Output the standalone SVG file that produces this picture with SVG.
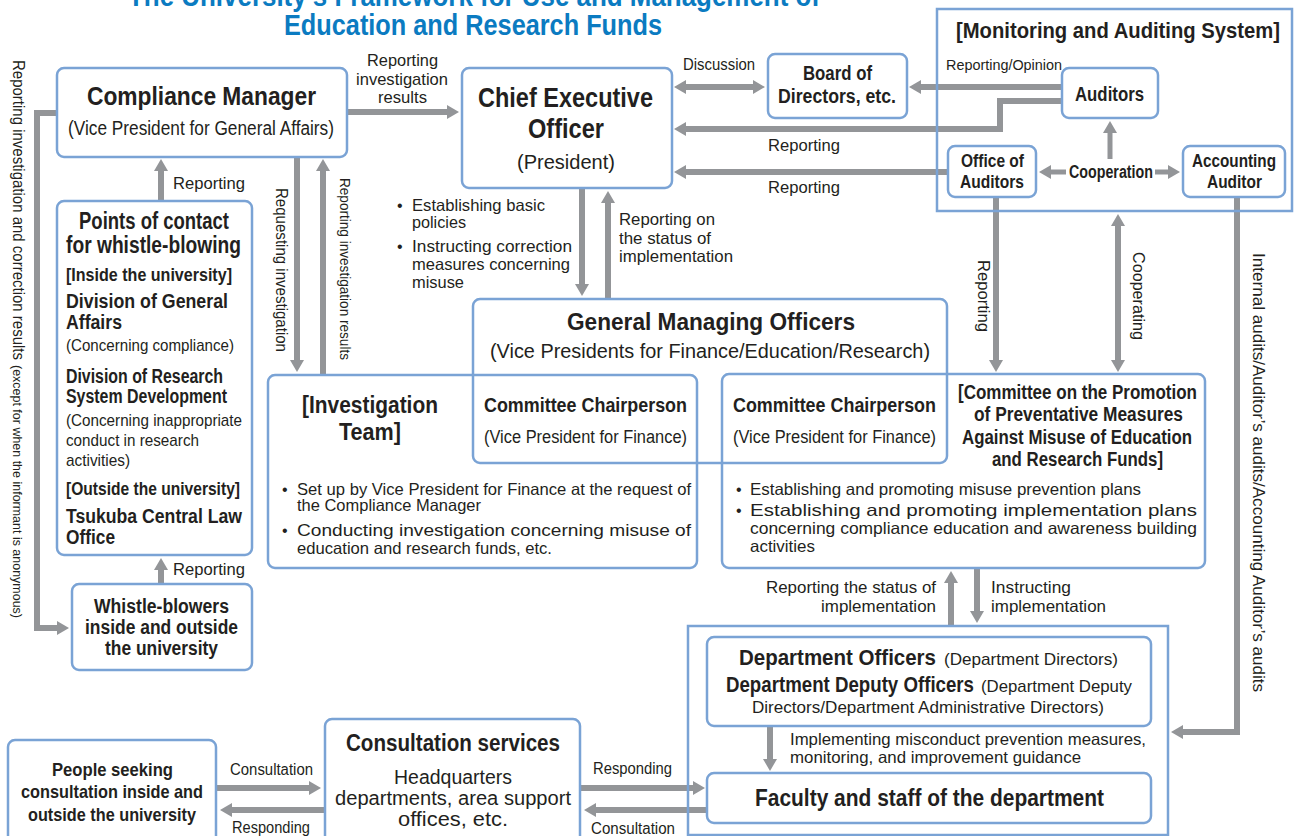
<svg xmlns="http://www.w3.org/2000/svg" width="1298" height="836" viewBox="0 0 1298 836">
<defs>
<style>
text{font-family:"Liberation Sans",Arial,sans-serif;fill:#231f20}
.b{font-weight:bold}
.ttl{font-weight:bold;fill:#0b7bc1;font-size:30px}
.box{fill:none;stroke:#7aa3d5;stroke-width:2.5}
.con{fill:none;stroke:#939598;stroke-width:6}
.thin{fill:none;stroke:#939598;stroke-width:5}
</style>
<marker id="ah" viewBox="0 0 12 14" refX="1" refY="7" markerWidth="12" markerHeight="14" markerUnits="userSpaceOnUse" orient="auto-start-reverse"><path d="M0,0 L12,7 L0,14 z" fill="#939598"/></marker>
</defs>
<rect width="1298" height="836" fill="#fff"/>

<g id="title">
<text class="ttl" x="128" y="6" textLength="692" lengthAdjust="spacingAndGlyphs">The University's Framework for Use and Management of</text>
<text class="ttl" x="284" y="35" textLength="378" lengthAdjust="spacingAndGlyphs">Education and Research Funds</text>
</g>

<g id="connectors">
<path class="con" d="M346,112 H448" marker-end="url(#ah)"/>
<path class="con" d="M57,113 H37 V628 H58" marker-end="url(#ah)"/>
<path class="con" d="M161,201 V170" marker-end="url(#ah)"/>
<path class="con" d="M161,584 V569" marker-end="url(#ah)"/>
<path class="con" d="M297,157 V361" marker-end="url(#ah)"/>
<path class="con" d="M323,375 V170" marker-end="url(#ah)"/>
<path class="con" d="M685,87 H754" marker-start="url(#ah)" marker-end="url(#ah)"/>
<path class="con" d="M1062,87 H920" marker-end="url(#ah)"/>
<path class="con" d="M1062,101 H1000 V129 H685" marker-end="url(#ah)"/>
<path class="con" d="M948,172 H685" marker-end="url(#ah)"/>
<path class="thin" d="M1110,159 V132" marker-end="url(#ah)"/>
<path class="thin" d="M1066,172 H1050" marker-end="url(#ah)"/>
<path class="thin" d="M1155,172 H1169" marker-end="url(#ah)"/>
<path class="con" d="M582,188 V285" marker-end="url(#ah)"/>
<path class="con" d="M608,299 V202" marker-end="url(#ah)"/>
<path class="con" d="M996,197 V361" marker-end="url(#ah)"/>
<path class="con" d="M1118,225 V361" marker-start="url(#ah)" marker-end="url(#ah)"/>
<path class="con" d="M1237,197 V732 H1182" marker-end="url(#ah)"/>
<path class="con" d="M951,626 V582" marker-end="url(#ah)"/>
<path class="con" d="M977,568 V612" marker-end="url(#ah)"/>
<path class="con" d="M770,726 V760" marker-end="url(#ah)"/>
<path class="con" d="M216,788 H310" marker-end="url(#ah)"/>
<path class="con" d="M325,810 H231" marker-end="url(#ah)"/>
<path class="con" d="M580,788 H694" marker-end="url(#ah)"/>
<path class="con" d="M707,810 H595" marker-end="url(#ah)"/>
</g>

<g id="connector-labels">
<text x="367" y="66" font-size="17" textLength="71" lengthAdjust="spacingAndGlyphs">Reporting</text>
<text x="356" y="85" font-size="17" textLength="92" lengthAdjust="spacingAndGlyphs">investigation</text>
<text x="378" y="103" font-size="17" textLength="49" lengthAdjust="spacingAndGlyphs">results</text>
<text x="683" y="70" font-size="16" textLength="72" lengthAdjust="spacingAndGlyphs">Discussion</text>
<text x="946" y="70" font-size="15" textLength="116" lengthAdjust="spacingAndGlyphs">Reporting/Opinion</text>
<text x="768" y="151" font-size="17" textLength="72" lengthAdjust="spacingAndGlyphs">Reporting</text>
<text x="768" y="193" font-size="17" textLength="72" lengthAdjust="spacingAndGlyphs">Reporting</text>
<text x="173" y="189" font-size="17" textLength="72" lengthAdjust="spacingAndGlyphs">Reporting</text>
<text x="173" y="575" font-size="17" textLength="72" lengthAdjust="spacingAndGlyphs">Reporting</text>
<text transform="translate(13,60) rotate(90)" font-size="17" textLength="300" lengthAdjust="spacingAndGlyphs">Reporting investigation and correction results</text>
<text transform="translate(13,365) rotate(90)" font-size="12" textLength="253" lengthAdjust="spacingAndGlyphs">(except for when the informant is anonymous)</text>
<text transform="translate(276,188) rotate(90)" font-size="16" textLength="164" lengthAdjust="spacingAndGlyphs">Requesting investigation</text>
<text transform="translate(340,178) rotate(90)" font-size="15" textLength="182" lengthAdjust="spacingAndGlyphs">Reporting investigation results</text>
<text transform="translate(978,260) rotate(90)" font-size="16" textLength="72" lengthAdjust="spacingAndGlyphs">Reporting</text>
<text transform="translate(1133,252) rotate(90)" font-size="16" textLength="88" lengthAdjust="spacingAndGlyphs">Cooperating</text>
<text transform="translate(1253,253) rotate(90)" font-size="17" textLength="439" lengthAdjust="spacingAndGlyphs">Internal audits/Auditor’s audits/Accounting Auditor’s audits</text>
<text x="397" y="211" font-size="16">•</text>
<text x="412" y="211" font-size="16.5" textLength="133" lengthAdjust="spacingAndGlyphs">Establishing basic</text>
<text x="412" y="228" font-size="16.5" textLength="54" lengthAdjust="spacingAndGlyphs">policies</text>
<text x="397" y="252" font-size="16">•</text>
<text x="412" y="252" font-size="16.5" textLength="160" lengthAdjust="spacingAndGlyphs">Instructing correction</text>
<text x="412" y="270" font-size="16.5" textLength="158" lengthAdjust="spacingAndGlyphs">measures concerning</text>
<text x="412" y="288" font-size="16.5" textLength="52" lengthAdjust="spacingAndGlyphs">misuse</text>
<text x="619" y="225" font-size="16.5" textLength="96" lengthAdjust="spacingAndGlyphs">Reporting on</text>
<text x="619" y="244" font-size="16.5" textLength="92" lengthAdjust="spacingAndGlyphs">the status of</text>
<text x="619" y="262" font-size="16.5" textLength="114" lengthAdjust="spacingAndGlyphs">implementation</text>
<text x="766" y="593" font-size="16.5" textLength="170" lengthAdjust="spacingAndGlyphs">Reporting the status of</text>
<text x="821" y="612" font-size="16.5" textLength="115" lengthAdjust="spacingAndGlyphs">implementation</text>
<text x="991" y="593" font-size="16.5" textLength="80" lengthAdjust="spacingAndGlyphs">Instructing</text>
<text x="991" y="612" font-size="16.5" textLength="115" lengthAdjust="spacingAndGlyphs">implementation</text>
<text x="790" y="745" font-size="16.5" textLength="356" lengthAdjust="spacingAndGlyphs">Implementing misconduct prevention measures,</text>
<text x="790" y="763" font-size="16.5" textLength="291" lengthAdjust="spacingAndGlyphs">monitoring, and improvement guidance</text>
<text x="230" y="775" font-size="16" textLength="83" lengthAdjust="spacingAndGlyphs">Consultation</text>
<text x="232" y="833" font-size="16" textLength="78" lengthAdjust="spacingAndGlyphs">Responding</text>
<text x="593" y="774" font-size="16" textLength="79" lengthAdjust="spacingAndGlyphs">Responding</text>
<text x="591" y="834" font-size="16" textLength="84" lengthAdjust="spacingAndGlyphs">Consultation</text>
</g>

<g id="monitoring-system">
<rect class="box" x="937" y="9" width="355" height="202"/>
<text class="b" x="956" y="38" font-size="22" textLength="324" lengthAdjust="spacingAndGlyphs">[Monitoring and Auditing System]</text>
<text class="b" x="1069" y="178" font-size="18" textLength="84" lengthAdjust="spacingAndGlyphs">Cooperation</text>
</g>

<g id="compliance-manager">
<rect class="box" x="57" y="68" width="290" height="89" rx="7"/>
<text class="b" x="87" y="105" font-size="25" textLength="229" lengthAdjust="spacingAndGlyphs">Compliance Manager</text>
<text x="68" y="135" font-size="19.5" textLength="266" lengthAdjust="spacingAndGlyphs">(Vice President for General Affairs)</text>
</g>

<g id="ceo">
<rect class="box" x="462" y="68" width="210" height="120" rx="7"/>
<text class="b" x="478" y="107" font-size="28" textLength="175" lengthAdjust="spacingAndGlyphs">Chief Executive</text>
<text class="b" x="528" y="138" font-size="28" textLength="76" lengthAdjust="spacingAndGlyphs">Officer</text>
<text x="517" y="169" font-size="21" textLength="98" lengthAdjust="spacingAndGlyphs">(President)</text>
</g>

<g id="board">
<rect class="box" x="768" y="54" width="139" height="64" rx="7"/>
<text class="b" x="803" y="80" font-size="20" textLength="69" lengthAdjust="spacingAndGlyphs">Board of</text>
<text class="b" x="778" y="103" font-size="20" textLength="118" lengthAdjust="spacingAndGlyphs">Directors, etc.</text>
</g>

<g id="auditors">
<rect class="box" x="1062" y="68" width="96" height="50" rx="7"/>
<text class="b" x="1075" y="101" font-size="20" textLength="69" lengthAdjust="spacingAndGlyphs">Auditors</text>
</g>

<g id="office-of-auditors">
<rect class="box" x="948" y="146" width="88" height="51" rx="7"/>
<text class="b" x="961" y="167" font-size="17.5" textLength="63" lengthAdjust="spacingAndGlyphs">Office of</text>
<text class="b" x="960" y="188" font-size="17.5" textLength="64" lengthAdjust="spacingAndGlyphs">Auditors</text>
</g>

<g id="accounting-auditor">
<rect class="box" x="1183" y="146" width="102" height="51" rx="7"/>
<text class="b" x="1192" y="167" font-size="17.5" textLength="84" lengthAdjust="spacingAndGlyphs">Accounting</text>
<text class="b" x="1207" y="188" font-size="17.5" textLength="55" lengthAdjust="spacingAndGlyphs">Auditor</text>
</g>

<g id="points-of-contact">
<rect class="box" x="57" y="201" width="195" height="354" rx="7"/>
<text class="b" x="79" y="229" font-size="23" textLength="150" lengthAdjust="spacingAndGlyphs">Points of contact</text>
<text class="b" x="66" y="253" font-size="23" textLength="175" lengthAdjust="spacingAndGlyphs">for whistle-blowing</text>
<text class="b" x="66" y="281" font-size="18" textLength="166" lengthAdjust="spacingAndGlyphs">[Inside the university]</text>
<text class="b" x="66" y="308" font-size="20" textLength="162" lengthAdjust="spacingAndGlyphs">Division of General</text>
<text class="b" x="66" y="329" font-size="20" textLength="56" lengthAdjust="spacingAndGlyphs">Affairs</text>
<text x="66" y="351" font-size="17" textLength="168" lengthAdjust="spacingAndGlyphs">(Concerning compliance)</text>
<text class="b" x="66" y="383" font-size="20" textLength="157" lengthAdjust="spacingAndGlyphs">Division of Research</text>
<text class="b" x="66" y="403" font-size="20" textLength="161" lengthAdjust="spacingAndGlyphs">System Development</text>
<text x="66" y="426" font-size="17" textLength="176" lengthAdjust="spacingAndGlyphs">(Concerning inappropriate</text>
<text x="66" y="446" font-size="17" textLength="133" lengthAdjust="spacingAndGlyphs">conduct in research</text>
<text x="66" y="466" font-size="17" textLength="64" lengthAdjust="spacingAndGlyphs">activities)</text>
<text class="b" x="66" y="495" font-size="18" textLength="174" lengthAdjust="spacingAndGlyphs">[Outside the university]</text>
<text class="b" x="66" y="523" font-size="20" textLength="176" lengthAdjust="spacingAndGlyphs">Tsukuba Central Law</text>
<text class="b" x="66" y="544" font-size="20" textLength="49" lengthAdjust="spacingAndGlyphs">Office</text>
</g>

<g id="whistle-blowers">
<rect class="box" x="72" y="584" width="180" height="86" rx="7"/>
<text class="b" x="94" y="613" font-size="20" textLength="135" lengthAdjust="spacingAndGlyphs">Whistle-blowers</text>
<text class="b" x="85" y="634" font-size="20" textLength="153" lengthAdjust="spacingAndGlyphs">inside and outside</text>
<text class="b" x="105" y="655" font-size="20" textLength="113" lengthAdjust="spacingAndGlyphs">the university</text>
</g>

<g id="general-managing-officers">
<rect class="box" x="473" y="299" width="474" height="164" rx="7"/>
<text class="b" x="567" y="330" font-size="23" textLength="288" lengthAdjust="spacingAndGlyphs">General Managing Officers</text>
<text x="490" y="358" font-size="20" textLength="440" lengthAdjust="spacingAndGlyphs">(Vice Presidents for Finance/Education/Research)</text>
<text class="b" x="484" y="412" font-size="21" textLength="203" lengthAdjust="spacingAndGlyphs">Committee Chairperson</text>
<text x="484" y="443" font-size="18" textLength="203" lengthAdjust="spacingAndGlyphs">(Vice President for Finance)</text>
<text class="b" x="733" y="412" font-size="21" textLength="203" lengthAdjust="spacingAndGlyphs">Committee Chairperson</text>
<text x="733" y="443" font-size="18" textLength="203" lengthAdjust="spacingAndGlyphs">(Vice President for Finance)</text>
</g>

<g id="investigation-team">
<rect class="box" x="268" y="375" width="429" height="193" rx="7"/>
<text class="b" x="302" y="413" font-size="23" textLength="136" lengthAdjust="spacingAndGlyphs">[Investigation</text>
<text class="b" x="339" y="440" font-size="23" textLength="62" lengthAdjust="spacingAndGlyphs">Team]</text>
<text x="282" y="495" font-size="16">•</text>
<text x="297" y="495" font-size="16.5" textLength="394" lengthAdjust="spacingAndGlyphs">Set up by Vice President for Finance at the request of</text>
<text x="297" y="511" font-size="16.5" textLength="184" lengthAdjust="spacingAndGlyphs">the Compliance Manager</text>
<text x="282" y="536" font-size="16">•</text>
<text x="297" y="536" font-size="16.5" textLength="394" lengthAdjust="spacingAndGlyphs">Conducting investigation concerning misuse of</text>
<text x="297" y="554" font-size="16.5" textLength="255" lengthAdjust="spacingAndGlyphs">education and research funds, etc.</text>
</g>

<g id="promotion-committee">
<rect class="box" x="722" y="374" width="483" height="194" rx="7"/>
<text class="b" x="958" y="399" font-size="20" textLength="239" lengthAdjust="spacingAndGlyphs">[Committee on the Promotion</text>
<text class="b" x="974" y="421" font-size="20" textLength="209" lengthAdjust="spacingAndGlyphs">of Preventative Measures</text>
<text class="b" x="962" y="444" font-size="20" textLength="230" lengthAdjust="spacingAndGlyphs">Against Misuse of Education</text>
<text class="b" x="992" y="466" font-size="20" textLength="171" lengthAdjust="spacingAndGlyphs">and Research Funds]</text>
<text x="736" y="495" font-size="16">•</text>
<text x="750" y="495" font-size="16.5" textLength="391" lengthAdjust="spacingAndGlyphs">Establishing and promoting misuse prevention plans</text>
<text x="736" y="516" font-size="16">•</text>
<text x="750" y="516" font-size="16.5" textLength="447" lengthAdjust="spacingAndGlyphs">Establishing and promoting implementation plans</text>
<text x="750" y="534" font-size="16.5" textLength="447" lengthAdjust="spacingAndGlyphs">concerning compliance education and awareness building</text>
<text x="750" y="552" font-size="16.5" textLength="65" lengthAdjust="spacingAndGlyphs">activities</text>
</g>

<g id="department">
<rect class="box" x="688" y="626" width="480" height="209"/>
</g>

<g id="department-officers">
<rect class="box" x="707" y="637" width="444" height="89" rx="7"/>
<text class="b" x="739" y="665" font-size="22" textLength="197" lengthAdjust="spacingAndGlyphs">Department Officers</text>
<text x="944" y="665" font-size="17" textLength="174" lengthAdjust="spacingAndGlyphs">(Department Directors)</text>
<text class="b" x="726" y="692" font-size="22" textLength="248" lengthAdjust="spacingAndGlyphs">Department Deputy Officers</text>
<text x="981" y="692" font-size="17" textLength="151" lengthAdjust="spacingAndGlyphs">(Department Deputy</text>
<text x="752" y="713" font-size="17" textLength="352" lengthAdjust="spacingAndGlyphs">Directors/Department Administrative Directors)</text>
</g>

<g id="faculty-staff">
<rect class="box" x="707" y="773" width="444" height="50" rx="7"/>
<text class="b" x="755" y="806" font-size="23" textLength="349" lengthAdjust="spacingAndGlyphs">Faculty and staff of the department</text>
</g>

<g id="consultation-services">
<rect class="box" x="325" y="719" width="255" height="130" rx="7"/>
<text class="b" x="346" y="751" font-size="23" textLength="214" lengthAdjust="spacingAndGlyphs">Consultation services</text>
<text x="394" y="784" font-size="20" textLength="118" lengthAdjust="spacingAndGlyphs">Headquarters</text>
<text x="335" y="805" font-size="20" textLength="236" lengthAdjust="spacingAndGlyphs">departments, area support</text>
<text x="398" y="826" font-size="20" textLength="110" lengthAdjust="spacingAndGlyphs">offices, etc.</text>
</g>

<g id="people-seeking">
<rect class="box" x="8" y="740" width="208" height="110" rx="7"/>
<text class="b" x="52" y="776" font-size="19" textLength="121" lengthAdjust="spacingAndGlyphs">People seeking</text>
<text class="b" x="21" y="798" font-size="19" textLength="182" lengthAdjust="spacingAndGlyphs">consultation inside and</text>
<text class="b" x="28" y="821" font-size="19" textLength="168" lengthAdjust="spacingAndGlyphs">outside the university</text>
</g>
</svg>
